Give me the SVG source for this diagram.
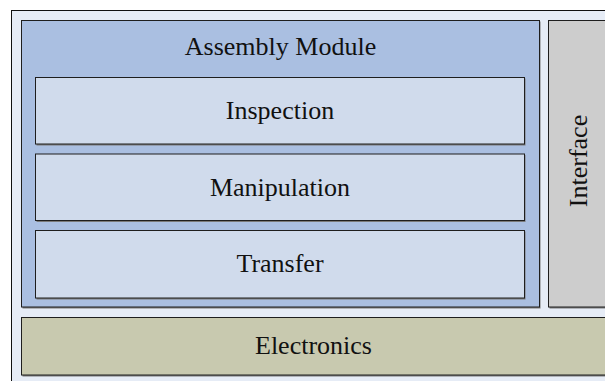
<svg xmlns="http://www.w3.org/2000/svg" width="605" height="381" viewBox="0 0 605 381">
  <defs>
    <style>
      .box { stroke: #1e1e1e; stroke-width: 1; }
      .shadow { fill: #7a7a7a; }
      .label { font-family: "Liberation Serif", "Times New Roman", serif; font-size: 26px; fill: #111; text-anchor: middle; }
      .frame { fill: #e6ecf6; stroke: #111; stroke-width: 1; }
      .module { fill: #aabfe1; }
      .layer { fill: #d0dbec; }
      .iface { fill: #cdcdcd; }
      .elec { fill: #c8c9af; }
    </style>
  </defs>

  <rect id="frame" class="frame" x="11.5" y="10.5" width="610" height="380"/>

  <g id="assembly-module">
    <rect class="shadow" x="22.5" y="21.5" width="518" height="287"/>
    <rect class="box module" x="21.5" y="20.5" width="518" height="286.5"/>
    <text class="label" x="280.5" y="55">Assembly Module</text>
  </g>

  <g id="inspection">
    <rect class="shadow" x="36.5" y="78.5" width="489" height="67"/>
    <rect class="box layer" x="35.5" y="77.5" width="489" height="66.5"/>
    <text class="label" x="280" y="119">Inspection</text>
  </g>

  <g id="manipulation">
    <rect class="shadow" x="36.5" y="155" width="489" height="67"/>
    <rect class="box layer" x="35.5" y="154" width="489" height="66.5"/>
    <text class="label" x="280" y="196">Manipulation</text>
  </g>

  <g id="transfer">
    <rect class="shadow" x="36.5" y="231.5" width="489" height="68"/>
    <rect class="box layer" x="35.5" y="230.5" width="489" height="67.5"/>
    <text class="label" x="280" y="272">Transfer</text>
  </g>

  <g id="interface">
    <rect class="shadow" x="549.5" y="21.5" width="70" height="287"/>
    <rect class="box iface" x="548.5" y="20.5" width="70" height="286.5"/>
    <text class="label" transform="translate(587 161) rotate(-90)">Interface</text>
  </g>

  <g id="electronics">
    <rect class="shadow" x="22.5" y="318.5" width="600" height="58"/>
    <rect class="box elec" x="21.5" y="317.5" width="600" height="57.5"/>
    <text class="label" x="313.5" y="354">Electronics</text>
  </g>

  <g id="connectors"/>
</svg>
